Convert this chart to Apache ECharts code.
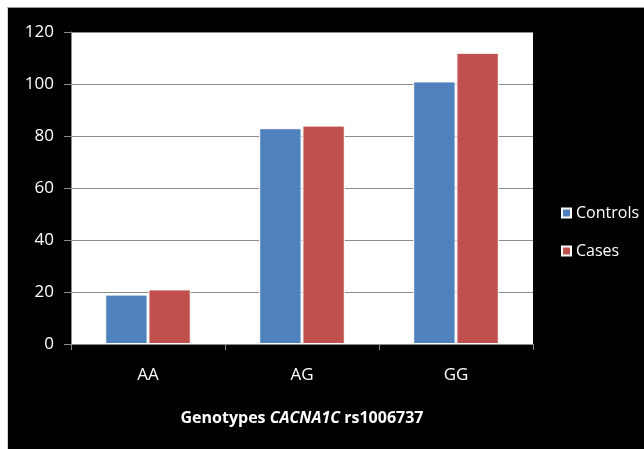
<!DOCTYPE html>
<html>
<head>
<meta charset="utf-8">
<script src="https://cdn.jsdelivr.net/npm/echarts@6/dist/echarts.min.js"></script>
<style>
  html, body { margin: 0; padding: 0; background: #ffffff; }
  #frame {
    position: absolute; left: 7px; top: 7px;
    width: 637px; height: 442px;
    background: #000000;
    border-top: 1px solid #9a9a9a;
    border-left: 1px solid #d0d0d0;
    box-sizing: border-box;
  }
  #chart { width: 100%; height: 100%; }
</style>
</head>
<body>
<div id="frame"><div id="chart"></div></div>
<script>
// Genotype counts for CACNA1C rs1006737
const genotypes = ['AA', 'AG', 'GG'];
const controls = [19, 83, 101];
const cases = [21, 84, 112];
const yTicks = [0, 20, 40, 60, 80, 100, 120];

const FONT = '"Open Sans", "Noto Sans", sans-serif';

const chart = echarts.init(document.getElementById('chart'), null, { renderer: 'canvas' });

chart.setOption({
  backgroundColor: '#000000',
  animation: false,
  textStyle: { fontFamily: FONT },
  grid: { left: 63, top: 24, right: 111, bottom: 105, containLabel: false,
          show: true, backgroundColor: '#ffffff', borderWidth: 0 },
  legend: {
    orient: 'vertical',
    left: 548, top: 192,
    itemWidth: 9, itemHeight: 9, itemGap: 22,
    icon: 'rect',
    textStyle: { color: '#ffffff', fontSize: 16, fontFamily: FONT },
    data: ['Controls', 'Cases']
  },
  xAxis: {
    type: 'category',
    data: genotypes,
    name: '{b|Genotypes }{i|CACNA1C}{b| rs1006737}',
    nameLocation: 'middle',
    nameGap: 66,
    nameTextStyle: {
      rich: {
        b: { color: '#ffffff', fontSize: 16, fontWeight: 'bold', fontFamily: FONT },
        i: { color: '#ffffff', fontSize: 16, fontWeight: 'bold', fontStyle: 'italic', fontFamily: FONT }
      }
    },
    axisLine: { lineStyle: { color: '#8c8c8c', width: 1 } },
    axisTick: { show: true, length: 6, alignWithLabel: false, lineStyle: { color: '#8c8c8c' } },
    axisLabel: { color: '#ffffff', fontSize: 17, margin: 23, fontFamily: FONT }
  },
  yAxis: {
    type: 'value',
    min: 0, max: 120, interval: 20,
    axisLine: { show: true, lineStyle: { color: '#8c8c8c', width: 1 } },
    axisTick: { show: true, length: 7, lineStyle: { color: '#8c8c8c' } },
    axisLabel: {
      color: '#ffffff', fontSize: 17, margin: 17, fontFamily: FONT,
      formatter: v => (yTicks.includes(v) ? String(v) : '')
    },
    splitLine: { show: true, lineStyle: { color: '#8c8c8c', width: 1 } }
  },
  series: [
    {
      name: 'Controls', type: 'bar', data: controls,
      barWidth: '27.5%', barGap: '2%',
      itemStyle: { color: '#4f81bd', borderColor: '#ffffff', borderWidth: 1 }
    },
    {
      name: 'Cases', type: 'bar', data: cases,
      barWidth: '27.5%', barGap: '2%',
      itemStyle: { color: '#c0504d', borderColor: '#ffffff', borderWidth: 1 }
    }
  ]
});
</script>
</body>
</html>
